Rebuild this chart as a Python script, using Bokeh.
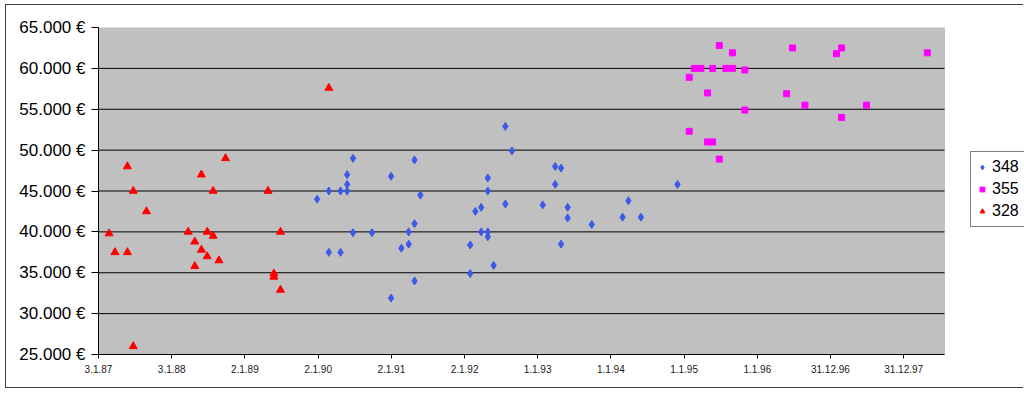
import pandas as pd
from bokeh.plotting import figure
from bokeh.models import FixedTicker, Legend, LegendItem, Range1d, BoxAnnotation
from bokeh.embed import file_html
from bokeh.resources import INLINE

series_names = ["348", "355", "328"]

# x values as decimal years, y values in €
blue_x = [1989.99, 1990.15, 1990.15, 1990.31, 1990.31, 1990.40, 1990.40, 1990.40, 1990.48, 1990.48,
          1990.74, 1991.00, 1991.00, 1991.14, 1991.24, 1991.24, 1991.32, 1991.32, 1991.32, 1991.40,
          1992.08, 1992.08, 1992.15, 1992.23, 1992.23, 1992.32, 1992.32, 1992.32, 1992.32, 1992.40,
          1992.56, 1992.56, 1992.65, 1993.07, 1993.24, 1993.32, 1993.24, 1993.41, 1993.41, 1993.32,
          1993.74, 1994.16, 1994.24, 1994.41, 1994.91]
blue_y = [44000, 45000, 37500, 45000, 37500, 45000, 45800, 47000, 49000, 39900,
          39900, 46800, 31900, 38000, 40000, 38500, 41000, 48800, 34000, 44500,
          38400, 34900, 42500, 43000, 40000, 40000, 39400, 45000, 46600, 35900,
          52900, 43400, 49900, 43300, 48000, 47800, 45800, 43000, 41700, 38500,
          40900, 41800, 43800, 41800, 45800]

magenta_x = [1995.48, 1995.66, 1996.48, 1997.08, 1997.15, 1998.32, 1995.14, 1995.23, 1995.39, 1995.57,
             1995.66, 1995.83, 1995.07, 1995.32, 1996.40, 1996.65, 1997.49, 1995.83, 1997.15, 1995.07,
             1995.32, 1995.39, 1995.48]
magenta_y = [62800, 61900, 62500, 61800, 62500, 61900, 60000, 60000, 60000, 60000,
             60000, 59800, 58900, 57000, 56900, 55500, 55500, 54900, 54000, 52300,
             51000, 51000, 48900]

red_x = [1990.15, 1987.40, 1987.48, 1987.66, 1987.15, 1987.23, 1987.40, 1987.48, 1988.74, 1988.41,
         1988.57, 1988.23, 1988.49, 1988.57, 1988.32, 1988.41, 1988.49, 1988.65, 1988.32, 1989.32,
         1989.49, 1989.40, 1989.40, 1989.49]
red_y = [57600, 48000, 45000, 42500, 39800, 37500, 37500, 26000, 49000, 47000,
         45000, 40000, 40000, 39500, 38800, 37800, 37000, 36500, 35800, 45000,
         40000, 34900, 34500, 32900]

y_ticks = [25000, 30000, 35000, 40000, 45000, 50000, 55000, 60000, 65000]
y_tick_labels = ["25.000 €", "30.000 €", "35.000 €", "40.000 €", "45.000 €",
                 "50.000 €", "55.000 €", "60.000 €", "65.000 €"]
x_tick_dates = ["1987-01-03", "1988-01-03", "1989-01-02", "1990-01-02", "1991-01-02", "1992-01-02",
                "1993-01-01", "1994-01-01", "1995-01-01", "1996-01-01", "1996-12-31", "1997-12-31"]
x_tick_labels = ["3.1.87", "3.1.88", "2.1.89", "2.1.90", "2.1.91", "2.1.92",
                 "1.1.93", "1.1.94", "1.1.95", "1.1.96", "31.12.96", "31.12.97"]
x_end = 1998.555


def dec_year(s):
    d = pd.Timestamp(s)
    ylen = 366 if d.is_leap_year else 365
    return round(d.year + (d.dayofyear - 1) / ylen, 4)


x_tick_pos = [dec_year(s) for s in x_tick_dates]
x0 = x_tick_pos[0]
y0, y1 = y_ticks[0], y_ticks[-1]

FONT = "Liberation Sans"
FRAME_W = 926       # frame spans to the right edge so that the legend can sit in it
AREA_W = 846        # width of the grey plotting area
x_frame_end = x0 + (x_end - x0) * FRAME_W / AREA_W

p = figure(width=1018, height=384, output_backend="svg", toolbar_location=None,
           x_range=Range1d(x0, x_frame_end), y_range=Range1d(y0, y1),
           min_border_left=92, min_border_right=0, min_border_top=22, min_border_bottom=35)
p.styles = {"margin-left": "5px", "margin-top": "4px",
            "border-left": "1px solid #404040", "border-top": "1px solid #404040",
            "border-bottom": "1px solid #404040"}

p.background_fill_color = "white"
p.border_fill_color = "white"
p.outline_line_color = None

# grey plot area
p.add_layout(BoxAnnotation(left=x0, right=x_end, bottom=y0, top=y1,
                           fill_color="#C0C0C0", fill_alpha=1,
                           line_color="#808080", line_width=1, level="underlay"))

p.xgrid.visible = False
p.ygrid.visible = False
grid_y = y_ticks[1:-1]
p.segment(x0=[x0] * len(grid_y), x1=[x_end] * len(grid_y), y0=grid_y, y1=grid_y,
          line_color="black", line_width=1)

p.yaxis.ticker = FixedTicker(ticks=y_ticks)
p.yaxis.major_label_overrides = dict(zip(y_ticks, y_tick_labels))
p.yaxis.major_label_text_font = FONT
p.yaxis.major_label_text_font_size = "17px"
p.yaxis.major_label_text_color = "black"
p.yaxis.major_tick_in = 0
p.yaxis.major_tick_out = 7
p.yaxis.minor_tick_line_color = None
p.yaxis.major_label_standoff = 6
p.yaxis.axis_line_color = "black"
p.yaxis.major_tick_line_color = "black"

p.xaxis.bounds = (x0, x_end)
p.xaxis.ticker = FixedTicker(ticks=x_tick_pos)
p.xaxis.major_label_overrides = dict(zip(x_tick_pos, x_tick_labels))
p.xaxis.major_label_text_font = FONT
p.xaxis.major_label_text_font_size = "10px"
p.xaxis.major_label_text_color = "#202020"
p.xaxis.major_tick_in = 0
p.xaxis.major_tick_out = 4
p.xaxis.minor_tick_line_color = None
p.xaxis.major_label_standoff = 6
p.xaxis.axis_line_color = "black"
p.xaxis.major_tick_line_color = "black"

rb = p.scatter(blue_x, blue_y, marker="diamond", size=8, color="#3C5AE6")
rm = p.scatter(magenta_x, magenta_y, marker="square", size=6, color="#FF00FF")
rr = p.scatter(red_x, red_y, marker="triangle", size=8, color="#FF0000")

legend = Legend(items=[LegendItem(label=series_names[0], renderers=[rb]),
                       LegendItem(label=series_names[1], renderers=[rm]),
                       LegendItem(label=series_names[2], renderers=[rr])],
                location=(872, 127))
legend.border_line_color = "black"
legend.border_line_width = 1
legend.background_fill_color = "white"
legend.background_fill_alpha = 1
legend.label_text_font = FONT
legend.label_text_font_size = "16px"
legend.label_text_color = "black"
legend.glyph_width = 12
legend.glyph_height = 20
legend.label_height = 20
legend.label_standoff = 4
legend.spacing = 2
legend.padding = 5
legend.margin = 0
p.add_layout(legend, "center")

open("out.html", "w").write(file_html(p, INLINE))
